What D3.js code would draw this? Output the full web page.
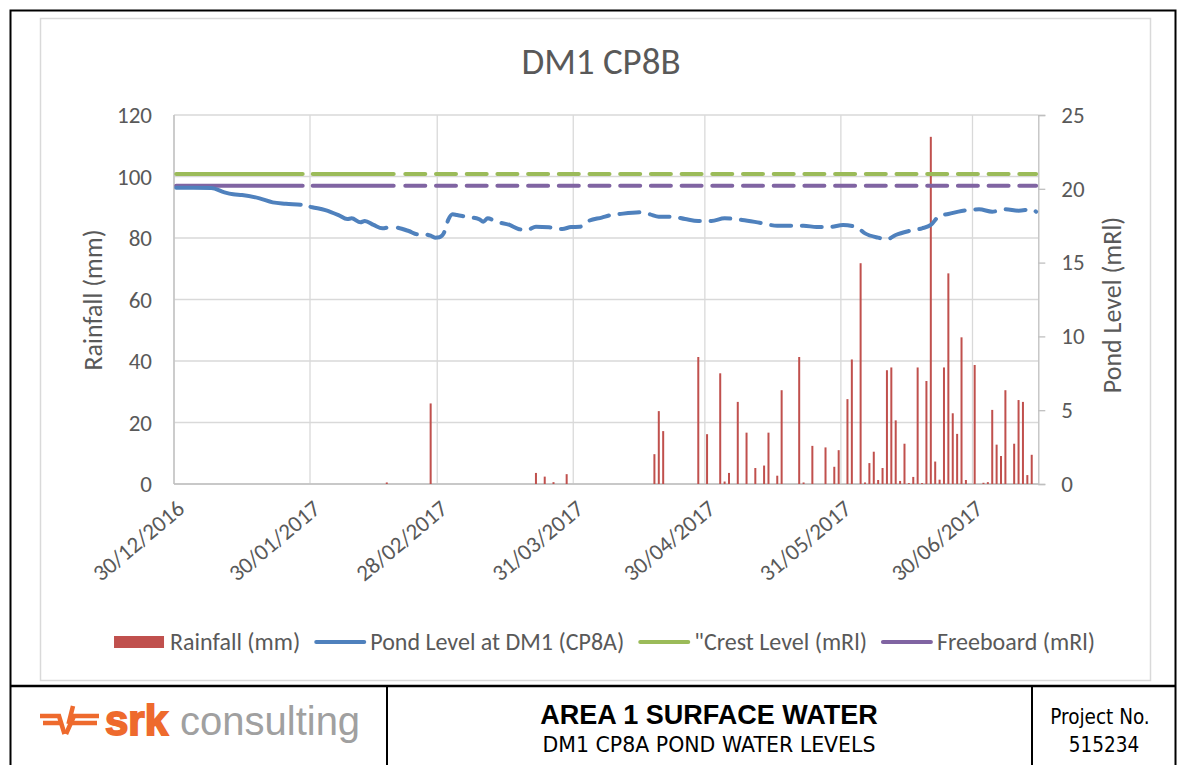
<!DOCTYPE html>
<html><head><meta charset="utf-8">
<script src="https://cdn.jsdelivr.net/npm/d3@7"></script>
<style>
body{margin:0;background:#fff;}
svg{display:block;}
</style></head><body>
<svg id="chart" width="1186" height="765"></svg>
<script>
// Daily rainfall (mm)
const rainDates = ["2017-02-16","2017-02-26","2017-03-22","2017-03-24","2017-03-26","2017-03-29",
  "2017-04-18","2017-04-19","2017-04-20","2017-04-28","2017-04-30","2017-05-03","2017-05-04","2017-05-05",
  "2017-05-07","2017-05-09","2017-05-11","2017-05-13","2017-05-14","2017-05-16","2017-05-17","2017-05-21",
  "2017-05-22","2017-05-24","2017-05-27","2017-05-29","2017-05-30","2017-06-01","2017-06-02","2017-06-04",
  "2017-06-05","2017-06-06","2017-06-07","2017-06-08","2017-06-09","2017-06-10","2017-06-11","2017-06-12",
  "2017-06-13","2017-06-14","2017-06-15","2017-06-16","2017-06-17","2017-06-18","2017-06-19","2017-06-20",
  "2017-06-21","2017-06-22","2017-06-23","2017-06-24","2017-06-25","2017-06-26","2017-06-27","2017-06-28",
  "2017-06-30","2017-07-02","2017-07-03","2017-07-04","2017-07-05","2017-07-06","2017-07-07","2017-07-09",
  "2017-07-10","2017-07-11","2017-07-12","2017-07-13"];
const rainValues = [0.5,26.2,3.6,2.4,0.6,3.2,
  9.7,23.7,17.2,41.3,16.2,36.0,0.8,3.6,
  26.7,16.7,5.2,6.0,16.7,2.7,30.5,41.3,
  0.5,12.4,11.9,5.6,11.0,27.6,40.5,71.8,
  0.5,6.8,10.5,1.3,5.2,37.0,37.9,20.7,
  1.0,13.1,0.3,2.3,37.9,0.3,33.5,112.9,
  7.3,1.4,37.9,68.5,23.0,16.3,47.7,1.3,
  38.7,0.4,0.6,24.1,12.8,9.1,30.5,13.1,
  27.3,26.7,2.9,9.5];

// Pond level at DM1 (mRl)
const levelDates = ["2016-12-30","2017-01-03","2017-01-07","2017-01-10","2017-01-12","2017-01-14","2017-01-18",
  "2017-01-21","2017-01-24","2017-01-28","2017-01-30","2017-02-02","2017-02-05","2017-02-07","2017-02-08",
  "2017-02-10","2017-02-11","2017-02-13","2017-02-15","2017-02-17","2017-02-21","2017-02-23","2017-02-24",
  "2017-02-26","2017-02-27","2017-02-28","2017-03-01","2017-03-02","2017-03-03","2017-03-04","2017-03-06",
  "2017-03-09","2017-03-10","2017-03-11","2017-03-13","2017-03-16","2017-03-18","2017-03-20","2017-03-22",
  "2017-03-25","2017-03-28","2017-03-30","2017-04-01","2017-04-03","2017-04-06","2017-04-08","2017-04-10",
  "2017-04-15","2017-04-17","2017-04-19","2017-04-22","2017-04-25","2017-04-28","2017-05-01","2017-05-04",
  "2017-05-08","2017-05-12","2017-05-16","2017-05-18","2017-05-22","2017-05-25","2017-05-28","2017-05-31",
  "2017-06-03","2017-06-05","2017-06-08","2017-06-10","2017-06-12","2017-06-15","2017-06-18","2017-06-20",
  "2017-06-22","2017-06-24","2017-06-27","2017-07-01","2017-07-04","2017-07-07","2017-07-10","2017-07-13",
  "2017-07-14"];
const levelValues = [20.07,20.07,20.05,19.76,19.63,19.58,19.35,
  19.08,18.99,18.9,18.75,18.56,18.22,17.95,18.0,
  17.73,17.82,17.55,17.32,17.41,17.14,16.92,16.94,
  16.82,16.69,16.72,17.0,17.89,18.27,18.22,18.11,
  17.95,17.77,18.0,17.77,17.55,17.28,17.21,17.43,
  17.39,17.28,17.41,17.43,17.82,18.05,18.22,18.29,
  18.41,18.27,18.11,18.11,17.95,17.82,17.82,18.0,
  17.89,17.7,17.5,17.5,17.5,17.41,17.41,17.55,
  17.41,16.98,16.69,16.58,16.87,17.14,17.32,17.55,
  18.18,18.29,18.5,18.61,18.45,18.61,18.52,18.61,
  18.45];

// Reference levels (mRl)
const crestLevel = 21.0;
const freeboardLevel = 20.2;
const referenceDates = ["2016-12-30","2017-07-14"];

// Axis ticks
const xTickDates = ["2016-12-30","2017-01-30","2017-02-28","2017-03-31","2017-04-30","2017-05-31","2017-06-30"];
const rainTicks = [0,20,40,60,80,100,120];
const levelTicks = [0,5,10,15,20,25];

const legendLabels = ["Rainfall (mm)","Pond Level at DM1 (CP8A)","\"Crest Level (mRl)","Freeboard (mRl)"];
const colors = {rain:"#C0504D", level:"#4F81BD", crest:"#9BBB59", freeboard:"#8064A2"};

const parse = d3.timeParse("%Y-%m-%d");
const fmt = d3.timeFormat("%d/%m/%Y");
const FONT = "Carlito, Lato, 'Open Sans', sans-serif";
const TXT = "#595959";
const TICK_FS = 23;
const LEG_FS = 24;

const svg = d3.select("#chart");
const M = {left:174, right:1038.3, top:115, bottom:484};

const x = d3.scaleTime()
  .domain([parse("2016-12-30"), parse("2017-07-15")])
  .range([M.left, M.right]);
const mid = d => d3.timeHour.offset(d, 12);   // centre of the daily slot
const yRain = d3.scaleLinear().domain([0,120]).range([M.bottom, M.top]);
const yLevel = d3.scaleLinear().domain([0,25]).range([M.bottom, M.top]);

// Outer frame and footer grid
svg.append("rect").attr("x",10.5).attr("y",10.5).attr("width",1165).attr("height",780)
  .attr("fill","none").attr("stroke","#000").attr("stroke-width",2);
svg.append("rect").attr("x",40.5).attr("y",18.5).attr("width",1110).attr("height",662)
  .attr("fill","#fff").attr("stroke","#D9D9D9").attr("stroke-width",1.5);
svg.append("line").attr("x1",10).attr("x2",1176).attr("y1",686).attr("y2",686).attr("stroke","#000").attr("stroke-width",2.5);
[387,1032].forEach(xx => svg.append("line").attr("x1",xx).attr("x2",xx).attr("y1",686).attr("y2",765)
  .attr("stroke","#000").attr("stroke-width",2));

// Title
svg.append("text").attr("x",601).attr("y",74).attr("text-anchor","middle")
  .attr("font-family",FONT).attr("font-size",37).attr("fill",TXT).text("DM1 CP8B");

// Gridlines
const grid = svg.append("g");
grid.selectAll("line.h").data(rainTicks).join("line")
  .attr("x1",M.left).attr("x2",M.right).attr("y1",d=>yRain(d)).attr("y2",d=>yRain(d))
  .attr("stroke","#D9D9D9").attr("stroke-width",1.3);
grid.selectAll("line.v").data(xTickDates.map(parse)).join("line")
  .attr("x1",d=>x(d)).attr("x2",d=>x(d)).attr("y1",M.top).attr("y2",M.bottom)
  .attr("stroke","#D9D9D9").attr("stroke-width",1.3);

// Axes lines
svg.append("line").attr("x1",M.left).attr("x2",M.left).attr("y1",M.top).attr("y2",M.bottom).attr("stroke","#BFBFBF").attr("stroke-width",1.3);
svg.append("line").attr("x1",M.left).attr("x2",M.right).attr("y1",M.bottom).attr("y2",M.bottom).attr("stroke","#BFBFBF").attr("stroke-width",1.3);

// Left axis labels
svg.append("g").selectAll("text").data(rainTicks).join("text")
  .attr("x",152).attr("y",d=>yRain(d)).attr("dy","0.35em").attr("text-anchor","end")
  .attr("font-family",FONT).attr("font-size",TICK_FS).attr("fill",TXT).text(d=>d);

// Right axis
const rAxis = d3.axisRight(yLevel).tickValues(levelTicks).tickSize(7).tickPadding(16);
const rg = svg.append("g").attr("transform",`translate(${M.right},0)`).call(rAxis);
rg.select(".domain").attr("stroke","#BFBFBF").attr("stroke-width",1.3);
rg.selectAll(".tick line").attr("stroke","#BFBFBF").attr("stroke-width",1.3);
rg.selectAll(".tick text").attr("font-family",FONT).attr("font-size",TICK_FS).attr("fill",TXT);

// Bottom axis labels
svg.append("g").selectAll("text").data(xTickDates.map(parse)).join("text")
  .attr("transform",d=>`translate(${x(d)+12},${M.bottom+27}) rotate(-40)`)
  .attr("text-anchor","end").attr("font-family",FONT).attr("font-size",TICK_FS).attr("fill",TXT)
  .text(d=>fmt(d));

// Axis titles
svg.append("text").attr("transform","translate(102,300) rotate(-90)").attr("text-anchor","middle")
  .attr("font-family",FONT).attr("font-size",26).attr("fill",TXT).text("Rainfall (mm)");
svg.append("text").attr("transform","translate(1121,305) rotate(-90)").attr("text-anchor","middle")
  .attr("font-family",FONT).attr("font-size",26).attr("fill",TXT).text("Pond Level (mRl)");

// Rainfall bars
const rain = rainDates.map((d,i)=>({date:parse(d), value:rainValues[i]}));
const barW = 2;
svg.append("g").selectAll("rect").data(rain).join("rect")
  .attr("x",d=>x(mid(d.date))-barW/2).attr("width",barW)
  .attr("y",d=>yRain(d.value)).attr("height",d=>yRain(0)-yRain(d.value))
  .attr("fill",colors.rain);

// Long-dash pattern used by the line series
function dashPattern(){
  const parts = [126.5,10,81,11.6];
  for(let i=0;i<60;i++) parts.push(20,10.7);
  return parts.join(" ");
}
const dash = dashPattern();

const lineGen = d3.line().x(d=>x(mid(d.date))).y(d=>yLevel(d.value));
const refSeries = v => referenceDates.map(d=>({date:parse(d), value:v}));

svg.append("path").datum(refSeries(crestLevel)).attr("d",lineGen)
  .attr("fill","none").attr("stroke",colors.crest).attr("stroke-width",4)
  .attr("stroke-linecap","round").attr("stroke-dasharray",dash);
svg.append("path").datum(refSeries(freeboardLevel)).attr("d",lineGen)
  .attr("fill","none").attr("stroke",colors.freeboard).attr("stroke-width",4)
  .attr("stroke-linecap","round").attr("stroke-dasharray",dash);

const level = levelDates.map((d,i)=>({date:parse(d), value:levelValues[i]}));
svg.append("path").datum(level).attr("d",lineGen.curve(d3.curveMonotoneX))
  .attr("fill","none").attr("stroke",colors.level).attr("stroke-width",4)
  .attr("stroke-linecap","round").attr("stroke-linejoin","round").attr("stroke-dasharray",dash);

// Legend
const lg = svg.append("g");
const items = [
  {label:legendLabels[0], type:"rect", color:colors.rain},
  {label:legendLabels[1], type:"line", color:colors.level},
  {label:legendLabels[2], type:"line", color:colors.crest},
  {label:legendLabels[3], type:"line", color:colors.freeboard}
];
let cx = 0;
const legY = 642;
items.forEach(it=>{
  const g = lg.append("g").attr("transform",`translate(${cx},0)`);
  if(it.type==="rect") g.append("rect").attr("x",0).attr("y",legY-6).attr("width",50).attr("height",12).attr("fill",it.color);
  else g.append("line").attr("x1",2).attr("x2",50).attr("y1",legY).attr("y2",legY).attr("stroke",it.color).attr("stroke-width",4).attr("stroke-linecap","round");
  const t = g.append("text").attr("x",56).attr("y",legY).attr("dy","0.35em")
    .attr("font-family",FONT).attr("font-size",LEG_FS).attr("fill",TXT).text(it.label);
  cx += 56 + t.node().getComputedTextLength() + 14;
});
const legW = cx - 14;
lg.attr("transform",`translate(${604.5-legW/2},0)`);

// Footer: logo
const logo = svg.append("g").attr("fill","none").attr("stroke","#EE6A2D").attr("stroke-width",4.5).attr("stroke-linecap","butt");
logo.append("path").attr("d","M40,716 H59 L64.5,734");
logo.append("path").attr("d","M43,723 H61");
logo.append("path").attr("d","M99,716 H74 L66,734");
logo.append("path").attr("d","M97,723 H72");
logo.append("path").attr("d","M73,706 L68.5,724");
svg.append("text").attr("x",105).attr("y",735).attr("font-family","'Liberation Sans', Arial, sans-serif")
  .attr("font-weight",700).attr("font-size",42).attr("fill","#EE6A2D").attr("stroke","#EE6A2D").attr("stroke-width",1.8).text("srk");
svg.append("text").attr("x",180).attr("y",735).attr("font-family","'Liberation Sans', Arial, sans-serif")
  .attr("font-size",40).attr("fill","#A0A0A0").text("consulting");

// Footer: titles
svg.append("text").attr("x",709).attr("y",724).attr("text-anchor","middle")
  .attr("font-family","'Liberation Sans', Arial, sans-serif").attr("font-weight",700).attr("font-size",27).attr("fill","#000")
  .text("AREA 1 SURFACE WATER");
svg.append("text").attr("x",709).attr("y",752).attr("text-anchor","middle")
  .attr("font-family","'DejaVu Sans', sans-serif").attr("font-size",20.5).attr("fill","#000")
  .text("DM1 CP8A POND WATER LEVELS");
svg.append("text").attr("x",1100).attr("y",724).attr("text-anchor","middle")
  .attr("font-family","'DejaVu Sans Condensed', 'DejaVu Sans', sans-serif").attr("font-size",20.5).attr("fill","#000")
  .text("Project No.");
svg.append("text").attr("x",1104).attr("y",752).attr("text-anchor","middle")
  .attr("font-family","'DejaVu Sans Condensed', 'DejaVu Sans', sans-serif").attr("font-size",20.5).attr("fill","#000")
  .text("515234");
</script>
</body></html>
